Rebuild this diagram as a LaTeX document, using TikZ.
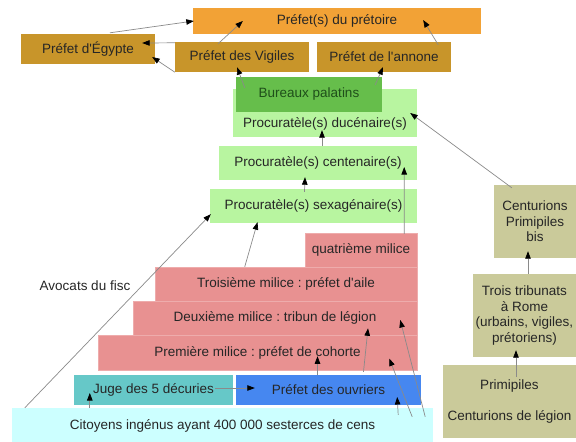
\documentclass[tikz,border=0pt]{standalone}
\usepackage{fontspec}
\newfontfamily\arialfont{Liberation Sans}
\usetikzlibrary{arrows.meta}
\definecolor{orangePrefet}{HTML}{F2A236}
\definecolor{orPrefet}{HTML}{C8952A}
\definecolor{vertBureau}{HTML}{66BE4B}
\definecolor{texteBureau}{HTML}{1F4F1A}
\definecolor{vertProc}{HTML}{B8F5A0}
\definecolor{rougeMilice}{HTML}{E89191}
\definecolor{turqJuge}{HTML}{66C8C8}
\definecolor{bleuOuvr}{HTML}{4687F0}
\definecolor{cyanCit}{HTML}{CCFFFF}
\definecolor{kakiCent}{HTML}{CACA9A}
\definecolor{grisFleche}{HTML}{8A8A8A}
\frenchspacing

\begin{document}
\begin{tikzpicture}[x=1pt, y=-1pt, font=\arialfont\fontsize{13.5}{15.5}\selectfont,
        box/.style={fill=#1, inner sep=0pt, align=center, text=black!85},
        prefet/.style={box=orPrefet},
        proc/.style={box=vertProc},
        milice/.style={box=rougeMilice, draw=rougeMilice!75!white, line width=0.5pt},
        cent/.style={box=kakiCent},
        fl/.style={grisFleche, line width=0.7pt, -{Triangle[length=7.5pt, width=5.5pt, color=black]}}]
    \useasboundingbox (0,0) rectangle (576,442);
    \node[box=orangePrefet, minimum width=288, minimum height=26] (pret) at (337,21) {Préfet(s) du prétoire};
    \node[prefet, minimum width=134, minimum height=30] (egy) at (88,49) {Préfet d'Égypte};
    \node[prefet, minimum width=134, minimum height=30] (vig) at (242,57) {Préfet des Vigiles};
    \node[prefet, minimum width=134, minimum height=30] (ann) at (384,57) {Préfet de l'annone};
    \node[proc, minimum width=184, minimum height=48, text height=38pt, text depth=10pt] (duc) at (325,113) {Procuratèle(s) ducénaire(s)};
    \node[box=vertBureau, text=texteBureau, minimum width=146, minimum height=35] (bur) at (309,94.5) {Bureaux palatins};
    \node[proc, minimum width=198, minimum height=34] (cen) at (318,163) {Procuratèle(s) centenaire(s)};
    \node[proc, minimum width=207, minimum height=34] (sex) at (313.5,206) {Procuratèle(s) sexagénaire(s)};
    \node[milice, minimum width=112, minimum height=34] (q4) at (361,250) {quatrième milice};
    \node[milice, minimum width=262, minimum height=34] (m3) at (286,284) {Troisième milice : préfet d'aile};
    \node[milice, minimum width=284, minimum height=34] (m2) at (275,318) {Deuxième milice : tribun de légion};
    \node[milice, minimum width=319, minimum height=35] (m1) at (257.5,352.5) {Première milice : préfet de cohorte};
    \node[box=turqJuge, minimum width=159, minimum height=30] (jug) at (153.5,390) {Juge des 5 décuries};
    \node[box=bleuOuvr, minimum width=185, minimum height=30] (ouv) at (328.5,390) {Préfet des ouvriers};
    \node[box=cyanCit, minimum width=421, minimum height=36] (cit) at (222.5,426) {Citoyens ingénus ayant 400 000 sesterces de cens};
    \node[cent, minimum width=82, minimum height=73] (cpb) at (535,221.5) {Centurions\\Primipiles\\bis};
    \node[cent, minimum width=103, minimum height=83] (tri) at (524.5,315.5) {Trois tribunats\\à Rome\\(urbains, vigiles,\\prétoriens)};
    \node[cent, minimum width=133, minimum height=73] (pri) at (509.5,401.5) {Primipiles\\[15.5pt]Centurions de légion};
    \node[text=black!85] (avo) at (85,286) {Avocats du fisc};

    \draw[fl] ([xshift=22,yshift=1]egy.north) -- ([xshift=1]pret.west);
    \draw[fl] ([xshift=-24,yshift=-2]vig.north) -- ([xshift=50]pret.west);
    \draw[fl] ([yshift=-1]vig.north west) -- ([xshift=-13,yshift=6]egy.east);
    \draw[fl] (vig.south west) -- ([xshift=-3,yshift=-8]egy.east);
    \draw[fl] ([xshift=9,yshift=-11]bur.north west) -- ([xshift=-5,yshift=5]vig.south);
    \draw[fl] ([xshift=-7,yshift=-8]bur.north east) -- ([xshift=-1,yshift=5]ann.south);
    \draw[fl] ([xshift=-13,yshift=-3]ann.north east) -- ([xshift=-58,yshift=1]pret.east);
    \draw[fl] ([xshift=18,yshift=-3]cpb.north west) -- ([xshift=-7]duc.east);
    \draw[fl] ([xshift=4]cen.north) -- ([xshift=-3,yshift=7]duc.south);
    \draw[fl] ([xshift=-9,yshift=-3]sex.north) -- ([xshift=-13,yshift=3]cen.south);
    \draw[fl] ([xshift=-13,yshift=-1]q4.north east) -- ([xshift=-13,yshift=-4]cen.east);
    \draw[fl] ([xshift=90]m3.north west) -- ([xshift=-56,yshift=1]sex.south);
    \draw[fl] ([xshift=13]cit.north west) -- ([xshift=1,yshift=9]sex.south west);
    \draw[fl] ([xshift=-18,yshift=2]jug.east) -- ([xshift=19,yshift=2]ouv.west);
    \draw[fl] ([xshift=78]cit.north west) -- ([xshift=16,yshift=-3]jug.west);
    \draw[fl] ([xshift=-11]ouv.north) -- ([xshift=60,yshift=14]m1.south);
    \draw[fl] ([xshift=35,yshift=3]ouv.north) -- ([xshift=93,yshift=7]m2.south);
    \draw[fl] ([xshift=-21,yshift=-9]cit.north east) -- ([xshift=-28,yshift=-6]m1.east);
    \draw[fl] ([xshift=-8,yshift=-9]cit.north east) -- ([xshift=-17,yshift=-2]m2.east);
    \draw[fl] ([xshift=-35,yshift=-7]cit.north east) -- ([xshift=-24,yshift=-7]ouv.east);
    \draw[fl] ([xshift=3.5]tri.north) -- ([xshift=-7,yshift=7]cpb.south);
    \draw[fl] ([xshift=6.5,yshift=-12]pri.north) -- ([xshift=-8.5,yshift=7]tri.south);
\end{tikzpicture}
\end{document}
